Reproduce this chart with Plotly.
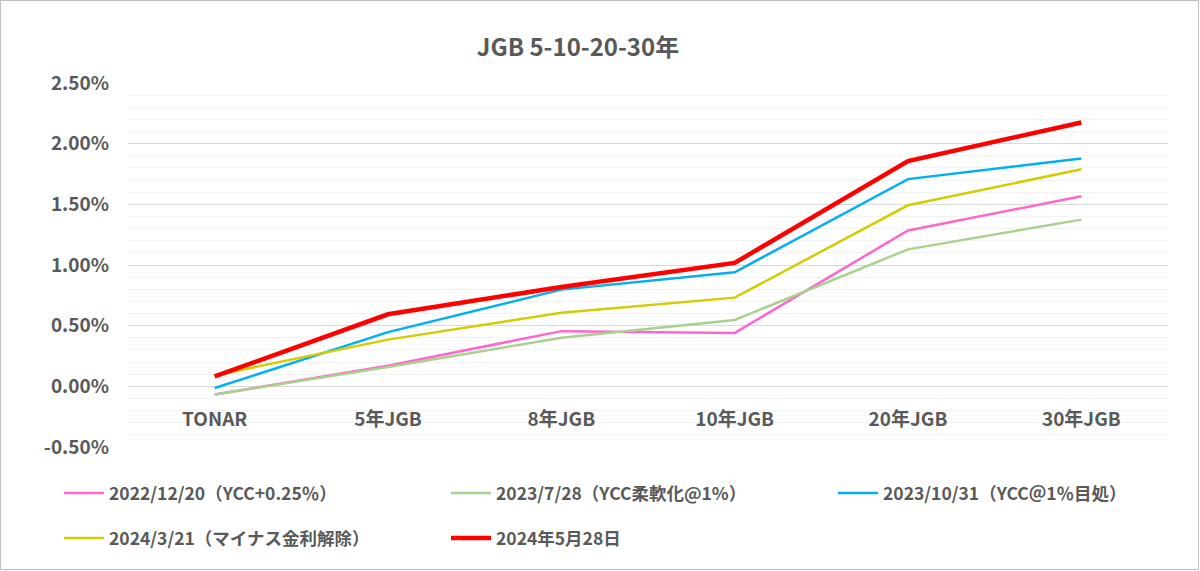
import plotly.graph_objects as go

categories = ["TONAR", "5年JGB", "8年JGB", "10年JGB", "20年JGB", "30年JGB"]

series_names = [
    "2022/12/20（YCC+0.25％）",
    "2023/7/28（YCC柔軟化@1%）",
    "2023/10/31（YCC＠1％目処）",
    "2024/3/21（マイナス金利解除）",
    "2024年5月28日",
]
s_2022_12_20 = [-0.068, 0.17, 0.455, 0.44, 1.285, 1.566]
s_2023_07_28 = [-0.068, 0.16, 0.40, 0.547, 1.129, 1.374]
s_2023_10_31 = [-0.014, 0.447, 0.797, 0.94, 1.708, 1.877]
s_2024_03_21 = [0.09, 0.385, 0.607, 0.731, 1.492, 1.789]
s_2024_05_28 = [0.082, 0.594, 0.819, 1.017, 1.857, 2.175]

series_values = [s_2022_12_20, s_2023_07_28, s_2023_10_31, s_2024_03_21, s_2024_05_28]
colors = ["#FF66CC", "#A9D18E", "#00B0F0", "#D4CC00", "#FF0000"]
widths = [2.5, 2.5, 2.5, 2.5, 4.5]
legend_rows = ["legend", "legend", "legend", "legend2", "legend2"]

y_ticks = [-0.5, 0.0, 0.5, 1.0, 1.5, 2.0, 2.5]
y_tick_labels = ["-0.50%", "0.00%", "0.50%", "1.00%", "1.50%", "2.00%", "2.50%"]

FONT = "Noto Sans CJK JP"
GRAY = "#595959"

fig = go.Figure()
for name, vals, c, w, lg in zip(series_names, series_values, colors, widths, legend_rows):
    fig.add_trace(go.Scatter(
        x=categories, y=vals, name=name, mode="lines",
        line=dict(color=c, width=w), legend=lg,
    ))

W, H = 1200, 571
ml, mr, mt, mb = 128, 32, 83, 124
pw, ph = W - ml - mr, H - mt - mb


def px_x(x):
    return (x - ml) / pw


def px_y(y):
    return (H - mb - y) / ph


legend_common = dict(
    orientation="h", xanchor="left", yanchor="middle",
    entrywidth=332, entrywidthmode="pixels",
    font=dict(size=17.5, family=FONT, color=GRAY, weight="bold"),
    itemwidth=40, bgcolor="rgba(0,0,0,0)",
)

fig.update_layout(
    width=W, height=H,
    margin=dict(l=ml, r=mr, t=mt, b=mb, autoexpand=False),
    paper_bgcolor="white", plot_bgcolor="white",
    font=dict(family=FONT, color=GRAY),
    title=dict(text="<b>JGB 5-10-20-30年</b>", x=578 / W, xanchor="center",
               y=1 - 48 / H, yanchor="middle",
               font=dict(size=24, family=FONT, color=GRAY)),
    showlegend=True,
    legend=dict(x=px_x(59), y=px_y(493), **legend_common),
    legend2=dict(x=px_x(59), y=px_y(538), **legend_common),
    xaxis=dict(
        type="category", range=[-0.5, 5.5],
        showgrid=False, zeroline=False, showline=False, ticks="",
        anchor="free", position=(0 - (-0.5)) / 3.0,
        ticklabelstandoff=20,
        tickfont=dict(size=19, family=FONT, color=GRAY, weight="bold"),
    ),
    yaxis=dict(
        range=[-0.5, 2.5], tickvals=y_ticks, ticktext=y_tick_labels,
        showgrid=True, gridcolor="#D9D9D9", gridwidth=1.3,
        zeroline=False, showline=False, ticks="",
        ticklabelstandoff=18,
        tickfont=dict(size=19, family=FONT, color=GRAY, weight="bold"),
        minor=dict(dtick=0.1, showgrid=True, gridcolor="#F2F2F2", gridwidth=1),
    ),
)

# chart-area border
fig.add_shape(type="rect", xref="paper", yref="paper",
              x0=px_x(0.5), x1=px_x(W - 1.5),
              y0=px_y(H - 1.5), y1=px_y(0.5),
              line=dict(color="#BFBFBF", width=1), layer="below")

fig.write_html("out.html", config={"displayModeBar": False},
               post_script="document.body.style.margin='0';")
